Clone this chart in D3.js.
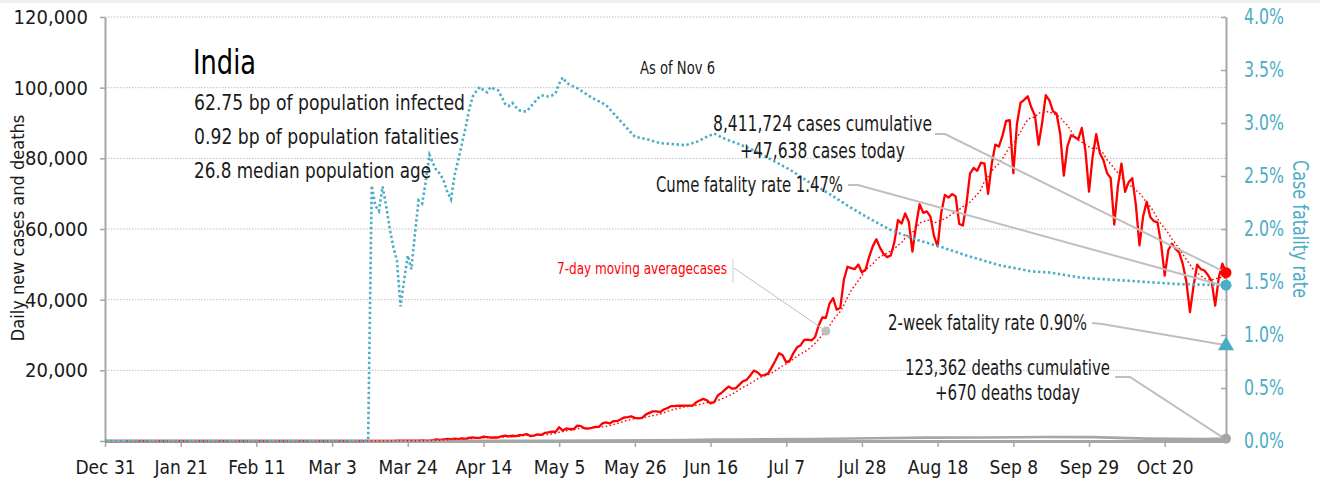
<!DOCTYPE html>
<html>
<head>
<meta charset="utf-8">
<script src="https://cdn.jsdelivr.net/npm/d3@7"></script>
<style>
  body { margin: 0; background: #fff; }
  svg text { font-family: "Liberation Sans Narrow", "Arial Narrow", "DejaVu Sans Condensed", sans-serif; }
</style>
</head>
<body>
<div id="chart"></div>
<script>
// India daily new cases, one value per day from Dec 31 to Nov 6
const casesDec = [0];
const casesJan = [0,0,0,0,0,0,0,0,0,0,0,0,0,0,0,0,0,0,0,0,0,0,0,0,0,0,0,0,0,1,0];
const casesFeb = [0,1,1,0,0,0,0,0,0,0,0,0,0,0,0,0,0,0,0,0,0,0,0,0,0,0,0,0,0];
const casesMar = [0,2,1,22,1,1,2,5,4,5,6,13,8,13,20,12,11,28,22,53,88,64,81,77,80,88,87,149,106,92,227];
const casesApr = [437,328,478,601,472,693,508,773,591,896,1035,909,905,1211,1076,941,1007,991,1334,1553,1336,1486,1409,1684,1752,1975,1396,1543,1897,1718];
const casesMay = [2293,2411,2644,2573,3900,2958,3561,3390,3320,4353,4213,3604,3525,3722,3967,3970,4987,5242,4970,5611,5609,6088,6654,6767,6977,6535,6387,6566,7466,7964,8380];
const casesJun = [8392,8171,8909,9304,9851,9887,9971,9983,9987,9985,9996,10956,11458,11929,11502,10667,10974,12881,13586,14516,15413,14821,14933,15968,16922,17296,18552,19906,19459,18522];
const casesJul = [18653,19148,20903,22771,24850,24248,22252,22752,24879,26506,27114,28637,28701,28498,29429,32695,34956,34884,38902,40425,37148,37724,45720,49310,48916,48661,49931,47703,48513,52123,55079];
const casesAug = [57118,54736,52972,52050,52509,56282,62538,61537,64399,62064,53601,60963,66999,64553,65002,63490,57981,55079,64531,69652,68898,69878,69239,61408,60975,67151,75760,77266,76472,78761,78512];
const casesSep = [69921,78357,83883,83341,86432,90632,90802,75809,89706,95735,96551,97570,94372,92071,83809,90123,97894,96424,93337,92605,86961,75083,83347,86508,86052,85362,88600,82170,70589,80472];
const casesOct = [86821,81484,79476,75829,74442,61267,72049,78524,70496,73272,74383,66732,55342,63509,67708,63371,62212,61871,55722,46790,54044,55839,54366,53370,50129,45148,36470,43893,49881,48648,48268];
const casesNov = [46963,45231,38310,46253,50210,47638];

const deathDates = ["2019-12-31","2020-03-12","2020-03-31","2020-04-15","2020-04-30","2020-05-15","2020-05-31","2020-06-10","2020-06-17","2020-06-24","2020-07-15","2020-07-31","2020-08-15","2020-08-31","2020-09-16","2020-09-30","2020-10-15","2020-10-31","2020-11-06"];
const deathValues = [0,1,10,40,70,100,190,280,420,400,560,760,950,980,1150,1100,680,550,670];

// case fatality rate (%) on the right axis
const cfrDates = ["2019-12-31","2020-03-13","2020-03-14","2020-03-15","2020-03-16","2020-03-17","2020-03-18","2020-03-19","2020-03-20","2020-03-21","2020-03-22","2020-03-23","2020-03-24","2020-03-25","2020-03-26","2020-03-27","2020-03-28","2020-03-29","2020-03-30","2020-03-31","2020-04-01","2020-04-02","2020-04-03","2020-04-04","2020-04-05","2020-04-06","2020-04-07","2020-04-08","2020-04-09","2020-04-10","2020-04-11","2020-04-12","2020-04-13","2020-04-14","2020-04-15","2020-04-16","2020-04-17","2020-04-18","2020-04-19","2020-04-20","2020-04-21","2020-04-22","2020-04-23","2020-04-24","2020-04-25","2020-04-26","2020-04-27","2020-04-28","2020-04-29","2020-04-30","2020-05-01","2020-05-02","2020-05-03","2020-05-04","2020-05-05","2020-05-06","2020-05-07","2020-05-08","2020-05-10","2020-05-14","2020-05-18","2020-05-22","2020-05-26","2020-05-29","2020-06-02","2020-06-06","2020-06-09","2020-06-12","2020-06-15","2020-06-17","2020-06-20","2020-06-24","2020-06-28","2020-07-02","2020-07-08","2020-07-13","2020-07-19","2020-07-25","2020-07-30","2020-08-05","2020-08-12","2020-08-19","2020-08-26","2020-09-04","2020-09-13","2020-09-18","2020-09-27","2020-10-06","2020-10-15","2020-10-24","2020-11-06"];
const cfrValues = [0,0,2.41,2.22,2.17,2.40,2.22,2.00,1.83,1.70,1.27,1.52,1.75,1.62,1.96,2.27,2.24,2.45,2.70,2.62,2.55,2.52,2.45,2.35,2.28,2.51,2.65,2.80,2.95,3.12,3.25,3.30,3.34,3.31,3.29,3.34,3.32,3.31,3.25,3.18,3.16,3.19,3.15,3.12,3.11,3.11,3.15,3.19,3.23,3.26,3.26,3.25,3.26,3.28,3.37,3.43,3.38,3.36,3.33,3.24,3.17,3.02,2.87,2.85,2.81,2.80,2.79,2.82,2.87,2.90,2.85,2.80,2.74,2.67,2.56,2.45,2.33,2.20,2.10,1.99,1.90,1.83,1.75,1.66,1.60,1.59,1.54,1.52,1.50,1.48,1.47];

const yTicks = [0, 20000, 40000, 60000, 80000, 100000, 120000];
const y2Ticks = [0, 0.5, 1.0, 1.5, 2.0, 2.5, 3.0, 3.5, 4.0];
const twoWeekCfr = 0.90;
const todayDeaths = 670;

const W = 1320, H = 482;
const red = "#ff0000", teal = "#4bacc6", grey = "#a6a6a6", lead = "#bfbfbf";

const parse = d3.timeParse("%Y-%m-%d");
const start = parse("2019-12-31");
const end = parse("2020-11-06");
const dailyCases = [].concat(casesDec, casesJan, casesFeb, casesMar, casesApr, casesMay, casesJun, casesJul, casesAug, casesSep, casesOct, casesNov);
const caseRows = dailyCases.map((v, i) => ({ date: d3.timeDay.offset(start, i), v: v }));
// 7-day trailing average of the daily counts
const maRows = caseRows.slice(6).map((r, i) => ({ date: r.date, v: d3.mean(dailyCases.slice(i, i + 7)) }));
const deathRows = deathDates.map((d, i) => ({ date: parse(d), v: deathValues[i] }));
const cfrRows = cfrDates.map((d, i) => ({ date: parse(d), v: cfrValues[i] }));

const x = d3.scaleTime().domain([start, end]).range([105, 1226]);
const y = d3.scaleLinear().domain([0, 120000]).range([441, 17]);
const y2 = d3.scaleLinear().domain([0, 4]).range([441, 17]);

const svg = d3.select("#chart").append("svg").attr("width", W).attr("height", H);
svg.append("rect").attr("width", W).attr("height", 3).attr("fill", "#f0f0f0");

// squeeze a text to the width it has in the reference (the font there is condensed)
function fit(sel, w) {
  return sel.attr("textLength", w).attr("lengthAdjust", "spacingAndGlyphs");
}

// gridlines
svg.append("g").selectAll("line").data(yTicks.slice(1)).join("line")
  .attr("x1", 105).attr("x2", 1226)
  .attr("y1", d => y(d)).attr("y2", d => y(d))
  .attr("stroke", lead).attr("stroke-width", 1).attr("stroke-dasharray", "1.5,1.5");

// axes
const xTicks = d3.range(0, 312, 21).map(i => d3.timeDay.offset(start, i));
const gx = svg.append("g").attr("transform", "translate(0,441)")
  .call(d3.axisBottom(x).tickValues(xTicks).tickFormat(d3.timeFormat("%b %-d")).tickSize(6).tickSizeOuter(0).tickPadding(14));
gx.select(".domain").attr("stroke", grey).attr("stroke-width", 3);
gx.selectAll(".tick line").attr("stroke", grey).attr("stroke-width", 1.5);
gx.selectAll("text").attr("font-size", 19).attr("fill", "#1a1a1a");

const gy = svg.append("g").attr("transform", "translate(105,0)")
  .call(d3.axisLeft(y).tickValues(yTicks).tickFormat(d3.format(",")).tickSize(5).tickSizeOuter(0).tickPadding(12));
gy.select(".domain").attr("stroke", grey).attr("stroke-width", 2);
gy.selectAll(".tick line").attr("stroke", grey).attr("stroke-width", 1.5);
gy.selectAll("text").attr("font-size", 20).attr("fill", "#1a1a1a");
gy.selectAll(".tick").filter(d => d === 0).select("text").remove();

const gy2 = svg.append("g").attr("transform", "translate(1226,0)")
  .call(d3.axisRight(y2).tickValues(y2Ticks).tickFormat(d => d.toFixed(1) + "%").tickSize(-5).tickSizeOuter(0).tickPadding(18));
gy2.select(".domain").attr("stroke", grey).attr("stroke-width", 2);
gy2.selectAll(".tick line").attr("stroke", grey).attr("stroke-width", 1.5);
fit(gy2.selectAll("text").attr("font-size", 21).attr("fill", teal), 40);

// axis titles
svg.append("text").attr("transform", "translate(24,228) rotate(-90)")
  .attr("text-anchor", "middle").attr("font-size", 18).attr("fill", "#1a1a1a")
  .text("Daily new cases and deaths");
fit(svg.append("text").attr("transform", "translate(1293,229) rotate(90)")
  .attr("text-anchor", "middle").attr("font-size", 22).attr("fill", teal)
  .text("Case fatality rate"), 138);

// series: daily cases under the deaths line, dotted lines on top
const line = d3.line().x(d => x(d.date)).y(d => y(d.v));
const line2 = d3.line().x(d => x(d.date)).y(d => y2(d.v));

svg.append("path").datum(caseRows).attr("d", line)
  .attr("fill", "none").attr("stroke", red).attr("stroke-width", 2.3).attr("stroke-linejoin", "round");
svg.append("path").datum(deathRows).attr("d", line)
  .attr("fill", "none").attr("stroke", grey).attr("stroke-width", 2.6);
svg.append("path").datum(maRows).attr("d", line)
  .attr("fill", "none").attr("stroke", red).attr("stroke-width", 1.4).attr("stroke-dasharray", "1.6,2.4");
svg.append("path").datum(cfrRows).attr("d", line2)
  .attr("fill", "none").attr("stroke", teal).attr("stroke-width", 2.6).attr("stroke-dasharray", "2.4,2.6");

// title block
fit(svg.append("text").attr("x", 193).attr("y", 74).attr("font-size", 33).attr("fill", "#000").text("India"), 63);
const info = ["62.75 bp of population infected", "0.92 bp of population fatalities", "26.8 median population age"];
const infoW = [271, 265, 237];
fit(svg.append("g").selectAll("text").data(info).join("text")
  .attr("x", 194).attr("y", (d, i) => 110 + i * 34).attr("font-size", 21).attr("fill", "#1a1a1a").text(d => d), (d, i) => infoW[i]);
fit(svg.append("text").attr("x", 640).attr("y", 74).attr("font-size", 17).attr("fill", "#1a1a1a").text("As of Nov 6"), 75);

// annotations
const lastCase = caseRows[caseRows.length - 1];
const lastCfr = cfrRows[cfrRows.length - 1];
const xe = x(end);
function leader(pts, w) {
  svg.append("path").attr("d", d3.line()(pts)).attr("fill", "none").attr("stroke", lead).attr("stroke-width", w || 2);
}
leader([[935, 134], [945, 134], [xe - 4, y(lastCase.v) - 2]]);
leader([[848, 185], [858, 185], [xe - 4, y2(lastCfr.v)]]);
leader([[1092, 323], [1102, 324], [xe - 4, y2(twoWeekCfr) - 1]]);
leader([[1115, 377], [1130, 377], [xe - 3, y(todayDeaths) - 1]]);

const ann = svg.append("g").attr("font-size", 21).attr("fill", "#1a1a1a");
fit(ann.append("text").attr("x", 713).attr("y", 131).text("8,411,724 cases cumulative"), 219);
fit(ann.append("text").attr("x", 740).attr("y", 158).text("+47,638 cases today"), 165);
fit(ann.append("text").attr("x", 656).attr("y", 192).text("Cume fatality rate 1.47%"), 187);
fit(ann.append("text").attr("x", 888).attr("y", 330).text("2-week fatality rate 0.90%"), 199);
fit(ann.append("text").attr("x", 905).attr("y", 375).text("123,362 deaths cumulative"), 205);
fit(ann.append("text").attr("x", 935).attr("y", 400).text("+670 deaths today"), 145);

// moving-average label
const maPoint = maRows.find(r => +r.date === +parse("2020-07-18"));
fit(svg.append("text").attr("x", 557).attr("y", 274)
  .attr("font-size", 16).attr("fill", red).text("7-day moving averagecases"), 170);
svg.append("line").attr("x1", 733).attr("x2", 733).attr("y1", 259).attr("y2", 283).attr("stroke", "#d0d0d0").attr("stroke-width", 1);
svg.append("line").attr("x1", 734).attr("y1", 268).attr("x2", x(maPoint.date)).attr("y2", y(maPoint.v))
  .attr("stroke", lead).attr("stroke-width", 1);
svg.append("circle").attr("cx", x(maPoint.date)).attr("cy", y(maPoint.v)).attr("r", 4.5).attr("fill", lead);

// end markers
svg.append("circle").attr("cx", xe).attr("cy", y(todayDeaths)).attr("r", 5).attr("fill", grey);
svg.append("path").attr("d", d3.symbol(d3.symbolTriangle, 110)()).attr("transform", `translate(${xe},${y2(twoWeekCfr)})`).attr("fill", teal);
svg.append("circle").attr("cx", xe).attr("cy", y2(lastCfr.v)).attr("r", 5.5).attr("fill", teal);
svg.append("circle").attr("cx", xe).attr("cy", y(lastCase.v)).attr("r", 5.5).attr("fill", red);
</script>
</body>
</html>
